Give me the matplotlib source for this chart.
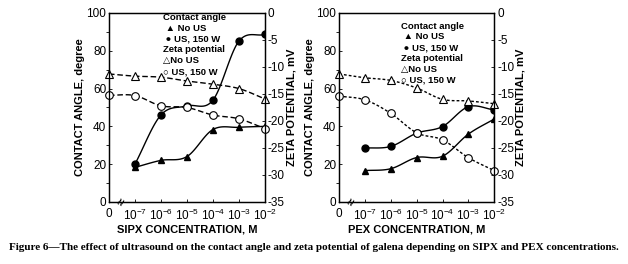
import numpy as np
import matplotlib
matplotlib.use('Agg')
import matplotlib.pyplot as plt

plt.rcParams['font.family'] = ['Liberation Sans', 'DejaVu Sans']
plt.rcParams['axes.unicode_minus'] = False
plt.rcParams['mathtext.fontset'] = 'custom'
plt.rcParams['mathtext.rm'] = 'Liberation Sans'
plt.rcParams['mathtext.it'] = 'Liberation Sans'

# x positions: 0, 1e-7 ... 1e-2 on an evenly spaced category scale
xlabels = ['0', r'$10^{-7}$', r'$10^{-6}$', r'$10^{-5}$', r'$10^{-4}$', r'$10^{-3}$', r'$10^{-2}$']
xpos = np.arange(7)

# SIPX panel
sipx_ca_nous = [18.3, 22.0, 24.0, 38.3, 39.5, 40.0]
sipx_ca_us = [20.0, 46.0, 50.8, 53.8, 85.0, 88.6]
sipx_zp_nous = [-11.3, -11.7, -11.9, -12.6, -13.2, -14.0, -15.9]
sipx_zp_us = [-15.25, -15.3, -17.2, -17.5, -18.9, -19.6, -21.4]

# PEX panel
pex_ca_nous = [16.6, 17.6, 23.5, 24.2, 35.9, 43.9]
pex_ca_us = [28.5, 29.4, 36.4, 39.9, 50.4, 48.7]
pex_zp_nous = [-11.3, -12.0, -12.5, -13.9, -16.0, -16.3, -16.8]
pex_zp_us = [-15.4, -16.1, -18.6, -22.2, -23.5, -26.8, -29.2]

legend_rows = ['Contact angle', ' \u25b2 No US', ' \u25cf US, 150 W',
               'Zeta potential', '\u25b3No US', '\u25cb US, 150 W']


def smooth(x, y, n=20):
    # Catmull-Rom curve through the points (like spreadsheet smoothed lines)
    x = np.asarray(x, float)
    y = np.asarray(y, float)
    px = np.concatenate([[2 * x[0] - x[1]], x, [2 * x[-1] - x[-2]]])
    py = np.concatenate([[2 * y[0] - y[1]], y, [2 * y[-1] - y[-2]]])
    xs, ys = [], []
    t = np.linspace(0, 1, n)
    for i in range(1, len(px) - 2):
        for arr, out in ((px, xs), (py, ys)):
            p0, p1, p2, p3 = arr[i - 1], arr[i], arr[i + 1], arr[i + 2]
            out.extend(0.5 * ((2 * p1) + (-p0 + p2) * t
                              + (2 * p0 - 5 * p1 + 4 * p2 - p3) * t ** 2
                              + (-p0 + 3 * p1 - 3 * p2 + p3) * t ** 3))
    return xs, ys


def panel(rect, xname, ca_nous, ca_us, zp_nous, zp_us, dash, legend_xy):
    ax = fig.add_axes(rect)
    ax2 = ax.twinx()
    ax.set_xlim(0, 6)
    ax.set_ylim(0, 100)
    ax2.set_ylim(-35, 0)
    ax.set_yticks(range(0, 101, 20))
    ax.set_yticks(range(10, 100, 20), minor=True)
    ax2.set_yticks(range(-35, 1, 5))
    ax.set_xticks(xpos)
    ax.set_xticklabels(xlabels)
    for a in (ax, ax2):
        a.tick_params(labelsize=8.5, length=2.5, width=0.6, pad=2)
        for s in a.spines.values():
            s.set_linewidth(0.9)
    ax.tick_params(axis='y', which='minor', length=2, width=0.6)
    ax.tick_params(axis='x', direction='in', pad=4)
    ax.tick_params(axis='y', direction='in')
    ax2.tick_params(axis='y', direction='in')

    xs, ys = smooth(xpos[1:], ca_nous)
    ax.plot(xs, ys, color='black', lw=1.0)
    ax.plot(xpos[1:], ca_nous, '^', color='black', ms=4.5, ls='none')
    xs, ys = smooth(xpos[1:], ca_us)
    ax.plot(xs, ys, color='black', lw=1.0)
    ax.plot(xpos[1:], ca_us, 'o', color='black', ms=5, ls='none')

    xs, ys = smooth(xpos, zp_nous)
    ax2.plot(xs, ys, color='black', lw=1.0, ls=dash)
    ax2.plot(xpos, zp_nous, '^', mfc='white', mec='black', mew=0.8, ms=5.5, ls='none', clip_on=False)
    xs, ys = smooth(xpos, zp_us)
    ax2.plot(xs, ys, color='black', lw=1.0, ls=dash)
    ax2.plot(xpos, zp_us, 'o', mfc='white', mec='black', mew=0.8, ms=5.5, ls='none', clip_on=False)

    # axis break mark
    ax.text(0.5, 0, '\u2248', fontsize=9, fontweight='bold', ha='center', va='center', rotation=60)

    ax.set_xlabel(xname, fontsize=8, fontweight='bold', labelpad=1)
    ax.set_ylabel('CONTACT ANGLE, degree', fontsize=8, fontweight='bold', labelpad=1)
    ax2.set_ylabel('ZETA POTENTIAL, mV', fontsize=8, fontweight='bold', labelpad=1)

    lx, ly = legend_xy
    for i, t in enumerate(legend_rows):
        ax.text(lx, ly - i * 0.057, t, transform=ax.transAxes, fontsize=6.8,
                fontweight='bold', va='center', ha='left')
    return ax


fig = plt.figure(figsize=(6.28, 2.64), dpi=100)
panel([0.1736, 0.235, 0.248, 0.716], 'SIPX CONCENTRATION, M',
      sipx_ca_nous, sipx_ca_us, sipx_zp_nous, sipx_zp_us, (0, (4, 2)), (0.345, 0.975))
panel([0.540, 0.235, 0.247, 0.716], 'PEX CONCENTRATION, M',
      pex_ca_nous, pex_ca_us, pex_zp_nous, pex_zp_us, (0, (2, 1.5)), (0.40, 0.93))

fig.text(0.5, 0.064, 'Figure 6\u2014The effect of ultrasound on the contact angle and zeta potential '
         'of galena depending on SIPX and PEX concentrations.',
         ha='center', va='center', fontsize=8.05, fontweight='bold', family='Liberation Serif')

fig.savefig('out.png', dpi=100)
